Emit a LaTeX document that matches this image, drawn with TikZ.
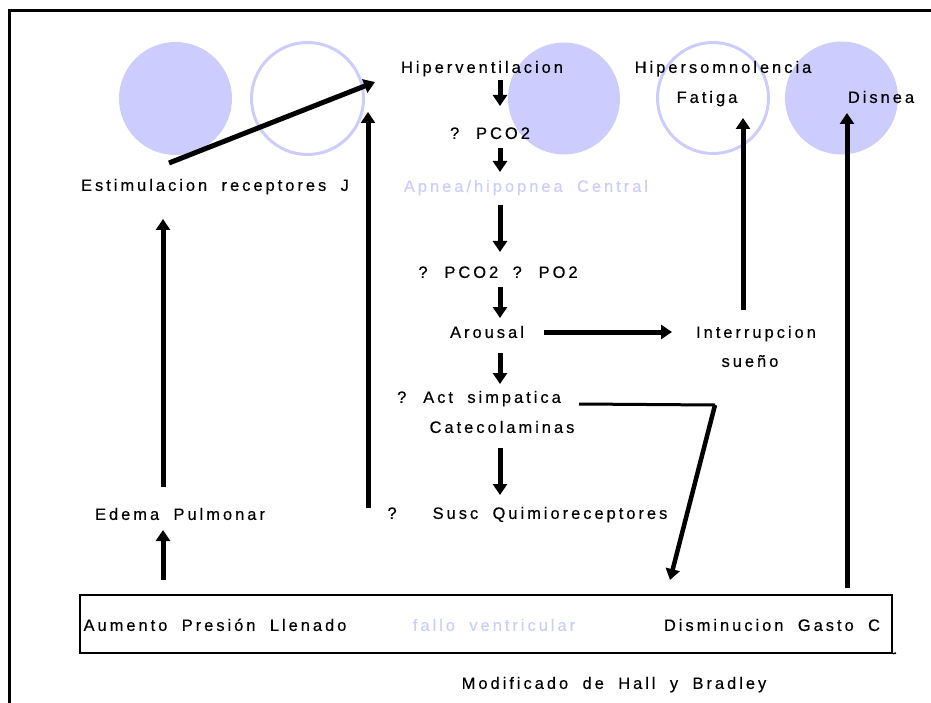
\documentclass[tikz,border=0pt]{standalone}
\usepackage{fontspec}
\setmainfont{Liberation Sans}[LetterSpace=18,WordSpace=1.9,FakeBold=0.4]
\usetikzlibrary{arrows.meta}
\definecolor{lav}{HTML}{CCCCFF}
\begin{document}
\begin{tikzpicture}[x=1pt,y=-1pt,
  lbl/.style={inner sep=0pt, font=\fontsize{16.5}{19}\selectfont, text height=11.8pt, text depth=0pt},
  pale/.style={lbl, text=lav},
  fillc/.style={circle, fill=lav, draw=none, inner sep=0pt},
  ringc/.style={circle, draw=lav, line width=3pt, inner sep=0pt},
  arr/.style={line width=5pt, -{Triangle[width=14pt,length=11pt]}},
  plain/.style={line width=3pt},
  ]
\useasboundingbox (0,0) rectangle (931,703);
% frame
\draw[line width=2.5pt] (9.5,710) -- (9.5,10.5) -- (935,10.5);
% circles
\node (c1) [fillc, minimum size=113pt] at (175.5,98.5) {};
\node (c2) [ringc, minimum size=112pt] at (307.5,98.5) {};
\node (c3) [fillc, minimum size=112pt] at (564,98.5) {};
\node (c4) [ringc, minimum size=111pt] at (713,98) {};
\node (c5) [fillc, minimum size=113pt] at (841.5,98) {};
% box
\node (box) [draw, line width=1.5pt, inner sep=0pt, minimum width=812pt, minimum height=58pt] at (486,624) {};
\coordinate (boxext) at (896,653);
\draw[line width=1.5pt] (box.south east) -- (boxext);
% texts
\node (hiper) [lbl] at (482,67) {Hiperventilacion};
\node (pco) [lbl] at (490,133) {? PCO2};
\node (apnea) [pale] at (526,186) {Apnea/hipopnea Central};
\node (pcopo) [lbl] at (498,272) {? PCO2 ? PO2};
\node (arousal) [lbl] at (487,332) {Arousal};
\node (act) [lbl] at (479,397) {? Act simpatica};
\node (cate) [lbl] at (502,427) {Catecolaminas};
\node (q) [lbl] at (392,513) {?};
\node (susc) [lbl] at (550,513) {Susc Quimioreceptores};
\node (hipers) [lbl] at (723,67) {Hipersomnolencia};
\node (fatiga) [lbl] at (707,97) {Fatiga};
\node (disnea) [lbl] at (881,97) {Disnea};
\node (interr) [lbl] at (756,332) {Interrupcion};
\node (sueno) [lbl] at (750,361) {sueño};
\node (estim) [lbl] at (215,185) {Estimulacion receptores J};
\node (edema) [lbl] at (180,514) {Edema Pulmonar};
\node (aumento) [lbl] at (215,625) {Aumento Presión Llenado};
\node (fallo) [pale] at (494,625) {fallo ventricular};
\node (dismin) [lbl] at (772,625) {Disminucion Gasto C};
\node (modif) [lbl] at (614,683) {Modificado de Hall y Bradley};
% connector end points
\coordinate (a1s) at (500,80);  \coordinate (a1e) at (500,106);
\coordinate (a2s) at (500,148); \coordinate (a2e) at (500,172);
\coordinate (a3s) at (500,205); \coordinate (a3e) at (500,252);
\coordinate (a4s) at (500,287); \coordinate (a4e) at (500,318);
\coordinate (a5s) at (500,353); \coordinate (a5e) at (500,384);
\coordinate (a6s) at (500,448); \coordinate (a6e) at (500,495);
\coordinate (arS) at (544,332); \coordinate (arE) at (672,332);
\coordinate (inS) at (743,310); \coordinate (inE) at (743,118);
\coordinate (diS) at (847,588); \coordinate (diE) at (847,113);
\coordinate (caS) at (579,404); \coordinate (caM) at (715,405); \coordinate (caE) at (670,580);
\coordinate (jS) at (169,163);  \coordinate (jE) at (375,82);
\coordinate (qS) at (368,508);  \coordinate (qE) at (368,112);
\coordinate (edS) at (163,487); \coordinate (edE) at (163,219);
\coordinate (auS) at (163,580); \coordinate (auE) at (163,530);
% connectors
\draw[arr] (a1s) -- (a1e);
\draw[arr] (a2s) -- (a2e);
\draw[arr] (a3s) -- (a3e);
\draw[arr] (a4s) -- (a4e);
\draw[arr] (a5s) -- (a5e);
\draw[arr] (a6s) -- (a6e);
\draw[arr] (arS) -- (arE);
\draw[arr] (inS) -- (inE);
\draw[arr] (diS) -- (diE);
\draw[plain] (caS) -- (caM);
\draw[arr, line width=4.5pt] (caM) -- (caE);
\draw[arr] (jS) -- (jE);
\draw[arr] (qS) -- (qE);
\draw[arr] (edS) -- (edE);
\draw[arr] (auS) -- (auE);
\end{tikzpicture}
\end{document}
